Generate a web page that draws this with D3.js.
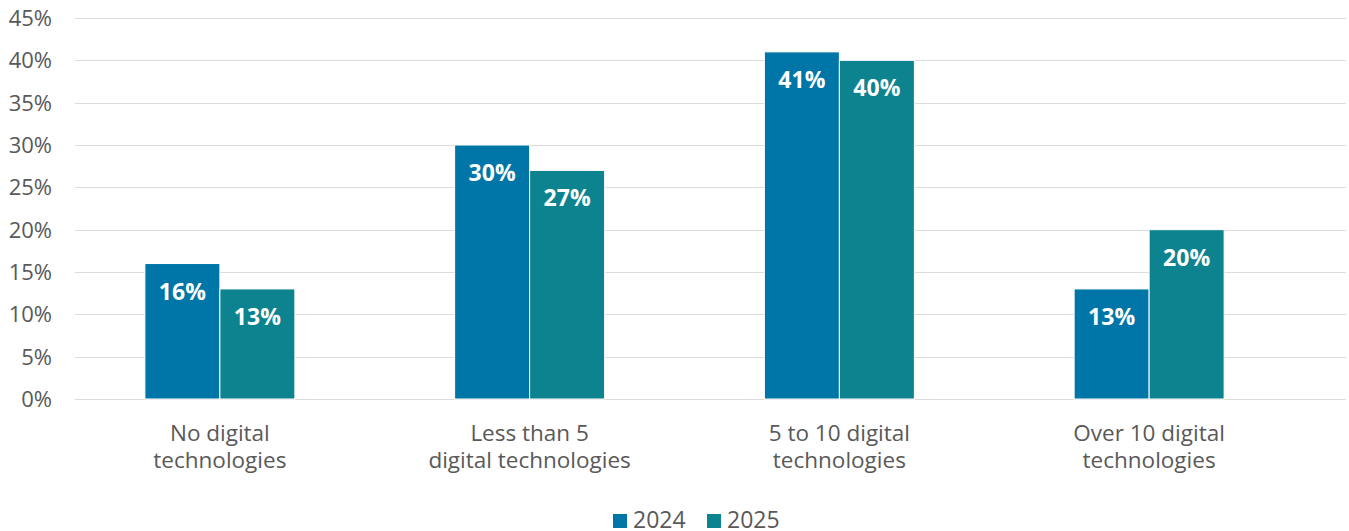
<!DOCTYPE html>
<html>
<head>
<meta charset="utf-8">
<script src="https://cdn.jsdelivr.net/npm/d3@7/dist/d3.min.js"></script>
<style>
  html, body { margin: 0; padding: 0; background: #fff; }
  svg { display: block; font-family: "Open Sans", sans-serif; }
</style>
</head>
<body>
<svg id="chart" width="1349" height="531"></svg>
<script>
// Share of respondents by number of digital technologies adopted
const categories = [
  ["No digital", "technologies"],
  ["Less than 5", "digital technologies"],
  ["5 to 10 digital", "technologies"],
  ["Over 10 digital", "technologies"]
];
const seriesNames = ["2024", "2025"];
const values2024 = [16, 30, 41, 13];
const values2025 = [13, 27, 40, 20];
const yTicks = [0, 5, 10, 15, 20, 25, 30, 35, 40, 45];
const colors = ["#0076A8", "#0D8390"];

const svg = d3.select("#chart");
const gridLeft = 75, gridRight = 1346;
const plotTop = 18, plotBottom = 399;

const x = d3.scaleBand()
  .domain(d3.range(categories.length))
  .range([65, 1304]);

const inner = d3.scaleBand()
  .domain(seriesNames)
  .range([x.bandwidth() / 2 - 75, x.bandwidth() / 2 + 75]);

const y = d3.scaleLinear().domain([0, 45]).range([plotBottom, plotTop]);

// horizontal gridlines
svg.append("g")
  .selectAll("line")
  .data(yTicks)
  .join("line")
  .attr("x1", gridLeft)
  .attr("x2", gridRight)
  .attr("y1", d => Math.round(y(d)) + 0.5)
  .attr("y2", d => Math.round(y(d)) + 0.5)
  .attr("stroke", "#dcdcdc")
  .attr("stroke-width", 1.2);

// y axis tick labels
svg.append("g")
  .selectAll("text")
  .data(yTicks)
  .join("text")
  .attr("x", 52)
  .attr("y", d => y(d))
  .attr("dy", "0.36em")
  .attr("text-anchor", "end")
  .attr("fill", "#595959")
  .attr("font-size", 22)
  .text(d => d + "%");

const series = [values2024, values2025];

const groups = svg.append("g")
  .selectAll("g")
  .data(categories)
  .join("g")
  .attr("transform", (d, i) => `translate(${x(i)},0)`);

groups.each(function (cat, i) {
  const g = d3.select(this);
  seriesNames.forEach((name, s) => {
    const v = series[s][i];
    g.append("rect")
      .attr("x", inner(name))
      .attr("width", inner.bandwidth())
      .attr("y", y(v))
      .attr("height", y(0) - y(v))
      .attr("fill", colors[s])
      .attr("stroke", "#ffffff")
      .attr("stroke-width", 1);
    g.append("text")
      .attr("x", inner(name) + inner.bandwidth() / 2)
      .attr("y", y(v) + 36)
      .attr("text-anchor", "middle")
      .attr("fill", "#ffffff")
      .attr("font-size", 23)
      .attr("font-weight", "bold")
      .text(v + "%");
  });
  // category label (two lines)
  const t = g.append("text")
    .attr("text-anchor", "middle")
    .attr("fill", "#595959")
    .attr("font-size", 22.5);
  cat.forEach((line, k) => {
    t.append("tspan")
      .attr("x", x.bandwidth() / 2)
      .attr("y", 441 + k * 27)
      .text(line);
  });
});

// legend
const legend = svg.append("g");
const legendX = [613, 707];
seriesNames.forEach((name, s) => {
  legend.append("rect")
    .attr("x", legendX[s])
    .attr("y", 514)
    .attr("width", 14)
    .attr("height", 14)
    .attr("fill", colors[s]);
  legend.append("text")
    .attr("x", legendX[s] + 20)
    .attr("y", 527.5)
    .attr("fill", "#595959")
    .attr("font-size", 23)
    .text(name);
});
</script>
</body>
</html>
